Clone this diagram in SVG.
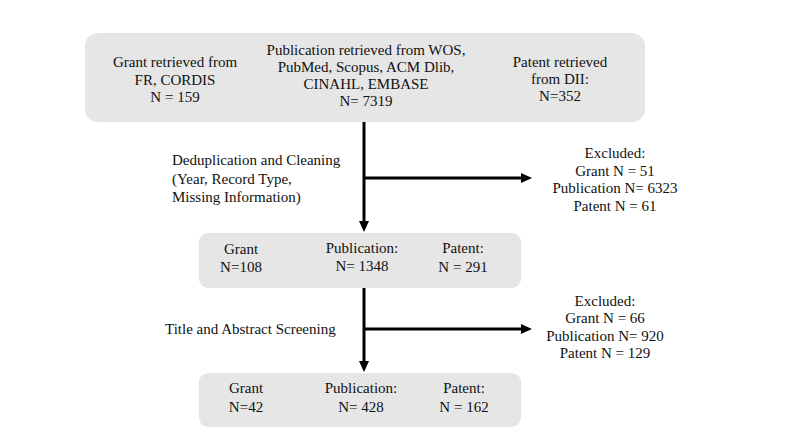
<svg xmlns="http://www.w3.org/2000/svg" width="789" height="448" viewBox="0 0 789 448">
<style>
text{font-family:"Liberation Serif","Times New Roman",serif;font-size:15px;fill:#111}
.c{text-anchor:middle}
.box{fill:#e6e6e6}
.ln{stroke:#000;stroke-width:3;fill:none}
</style>
<defs>
<marker id="ah" markerUnits="userSpaceOnUse" markerWidth="12" markerHeight="12" refX="1" refY="5" orient="auto">
<path d="M0,0 L11,5 L0,10 z" fill="#000"/>
</marker>
</defs>
<rect width="789" height="448" fill="#fff"/>
<g id="sources">
<rect class="box" x="85" y="33" width="560" height="89" rx="13"/>
<text class="c" x="175" y="67">Grant retrieved from</text>
<text class="c" x="175" y="85">FR, CORDIS</text>
<text class="c" x="175" y="102">N = 159</text>
<text class="c" x="366" y="55">Publication retrieved from WOS,</text>
<text class="c" x="366" y="72">PubMed, Scopus, ACM Dlib,</text>
<text class="c" x="366" y="89">CINAHL, EMBASE</text>
<text class="c" x="366" y="106">N= 7319</text>
<text class="c" x="560" y="67">Patent retrieved</text>
<text class="c" x="560" y="84">from DII:</text>
<text class="c" x="560" y="101">N=352</text>
</g>
<g id="dedup-label">
<text x="172" y="165">Deduplication and Cleaning</text>
<text x="172" y="184">(Year, Record Type,</text>
<text x="172" y="202">Missing Information)</text>
</g>
<g id="excluded1">
<text class="c" x="615" y="158">Excluded:</text>
<text class="c" x="615" y="176">Grant N = 51</text>
<text class="c" x="615" y="193">Publication N= 6323</text>
<text class="c" x="615" y="211">Patent N = 61</text>
</g>
<g id="after-dedup">
<rect class="box" x="199" y="233" width="322" height="55" rx="9"/>
<text class="c" x="241" y="254">Grant</text>
<text class="c" x="241" y="272">N=108</text>
<text class="c" x="362" y="253">Publication:</text>
<text class="c" x="362" y="271">N= 1348</text>
<text class="c" x="463" y="253">Patent:</text>
<text class="c" x="463" y="272">N = 291</text>
</g>
<g id="screen-label">
<text x="165" y="334">Title and Abstract Screening</text>
</g>
<g id="excluded2">
<text class="c" x="605" y="306">Excluded:</text>
<text class="c" x="605" y="323">Grant N = 66</text>
<text class="c" x="605" y="341">Publication N= 920</text>
<text class="c" x="605" y="358">Patent N = 129</text>
</g>
<g id="final">
<rect class="box" x="199" y="373" width="322" height="54" rx="9"/>
<text class="c" x="246" y="393">Grant</text>
<text class="c" x="246" y="412">N=42</text>
<text class="c" x="361" y="393">Publication:</text>
<text class="c" x="361" y="412">N= 428</text>
<text class="c" x="464" y="393">Patent:</text>
<text class="c" x="464" y="412">N = 162</text>
</g>
<g id="connectors">
<path class="ln" d="M364,122 V222" marker-end="url(#ah)"/>
<path class="ln" d="M364,178 H522" marker-end="url(#ah)"/>
<path class="ln" d="M364,288 V362" marker-end="url(#ah)"/>
<path class="ln" d="M364,329 H522" marker-end="url(#ah)"/>
</g>
</svg>
